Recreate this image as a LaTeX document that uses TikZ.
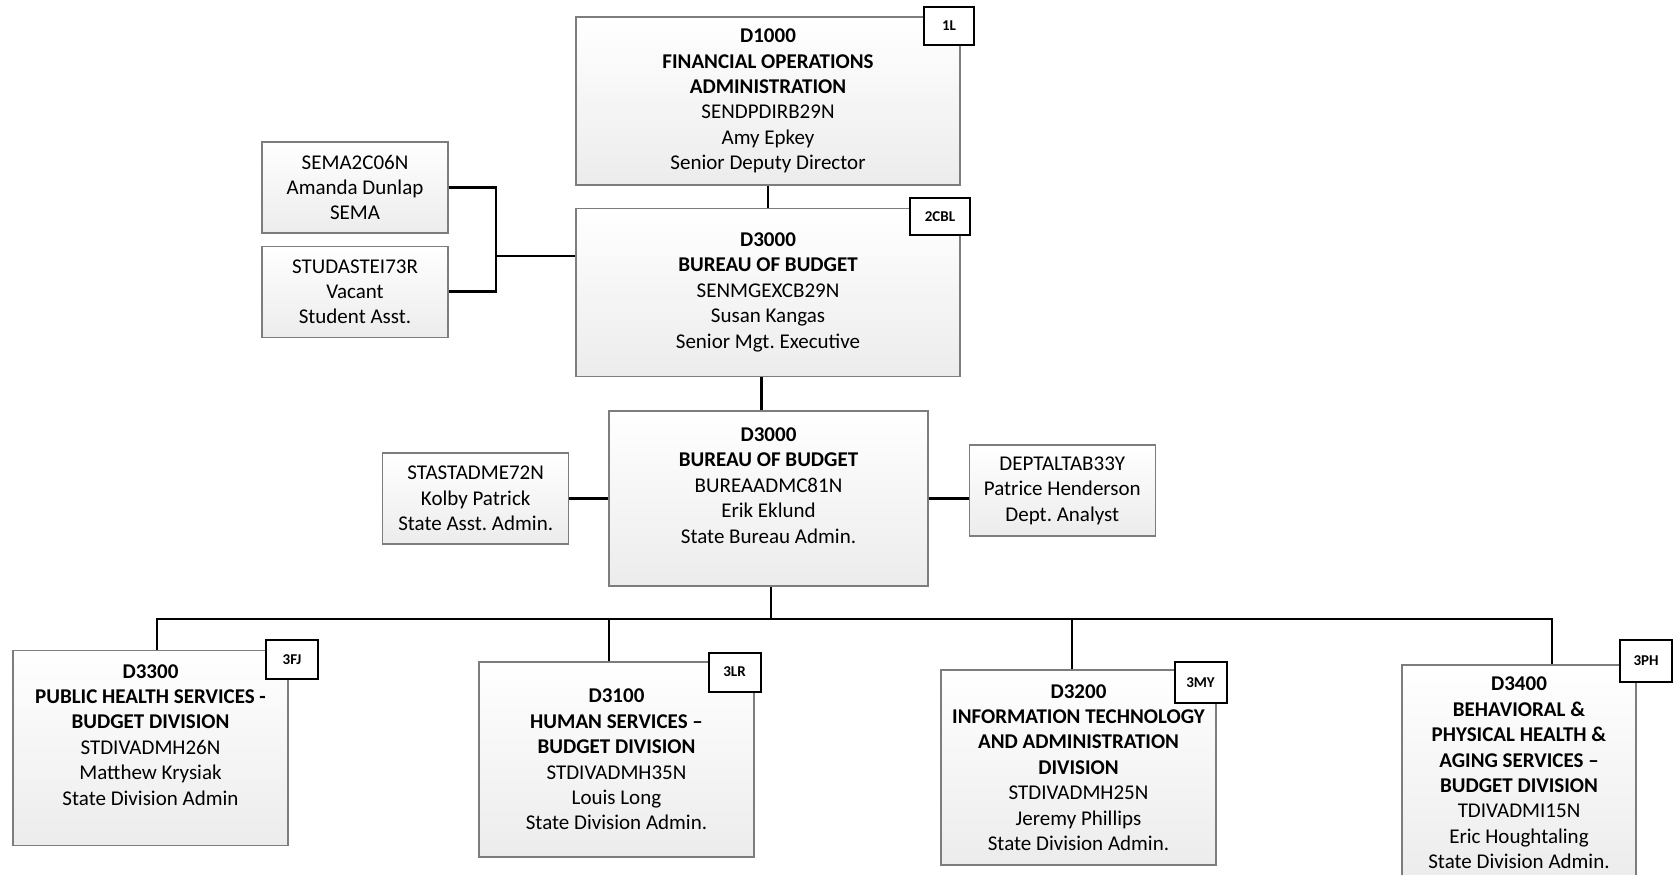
\documentclass[tikz,border=0pt]{standalone}
\usepackage{fontspec}
\setmainfont{Carlito}
\frenchspacing
\definecolor{boxBorder}{RGB}{125,125,125}
\definecolor{boxShade}{RGB}{236,236,236}
\usetikzlibrary{positioning}

\begin{document}
\begin{tikzpicture}[
  x=0.5pt, y=-0.5pt,
  box/.style={
    draw=boxBorder, line width=0.65pt, top color=white, bottom color=boxShade,
    align=center, inner sep=0pt, font=\fontsize{10.5}{12.7}\selectfont
  },
  big/.style={box, minimum width=192pt, minimum height=84pt},
  mid/.style={box, minimum width=159.5pt, minimum height=87.5pt},
  small/.style={box, minimum width=93pt, minimum height=45.5pt},
  div/.style={box, minimum width=137.5pt, minimum height=97.5pt},
  toptext/.style={anchor=north, align=center, inner sep=0pt, font=\fontsize{10.5}{12.7}\selectfont},
  tag/.style={
    draw, line width=1pt, fill=white, inner sep=0pt,
    minimum width=26pt, minimum height=19.5pt, font=\fontsize{7.5}{9}\selectfont\bfseries
  },
  link/.style={draw=black, line width=1.4pt}
]
  \clip (0,0) rectangle (1673,874);

  \node[big] (d1000) at (768,101) {\textbf{D1000}\\ \textbf{FINANCIAL OPERATIONS}\\ \textbf{ADMINISTRATION}\\ SENDPDIRB29N\\ Amy Epkey\\ Senior Deputy Director};
  \node[big, below=11pt of d1000] (d3000a) {\textbf{D3000}\\ \textbf{BUREAU OF BUDGET}\\ SENMGEXCB29N\\ Susan Kangas\\ Senior Mgt. Executive};
  \node[small] (sema) at (355,187.5) {SEMA2C06N\\ Amanda Dunlap\\ SEMA};
  \node[small, below=6pt of sema] (stud) {STUDASTEI73R\\ Vacant\\ Student Asst.};

  \node[mid] (d3000b) at (768.5,498.5) {};
  \node[toptext, below=8.5pt of d3000b.north] (d3000btxt) {\textbf{D3000}\\ \textbf{BUREAU OF BUDGET}\\ BUREAADMC81N\\ Erik Eklund\\ State Bureau Admin.};
  \node[small, left=19.5pt of d3000b] (stast) {STASTADME72N\\ Kolby Patrick\\ State Asst. Admin.};
  \node[small, right=20pt of d3000b, yshift=4pt] (dept) {DEPTALTAB33Y\\ Patrice Henderson\\ Dept. Analyst};

  \node[div] (d3300) at (150.5,748) {};
  \node[toptext, below=7pt of d3300.north] (d3300txt) {\textbf{D3300}\\ \textbf{PUBLIC HEALTH SERVICES -}\\ \textbf{BUDGET DIVISION}\\ STDIVADMH26N\\ Matthew Krysiak\\ State Division Admin};
  \node[div] (d3100) at (616.5,759.5) {\textbf{D3100}\\ \textbf{HUMAN SERVICES –}\\ \textbf{BUDGET DIVISION}\\ STDIVADMH35N\\ Louis Long\\ State Division Admin.};
  \node[div] (d3200) at (1078.5,767.5) {\textbf{D3200}\\ \textbf{INFORMATION TECHNOLOGY}\\ \textbf{AND ADMINISTRATION}\\ \textbf{DIVISION}\\ STDIVADMH25N\\ Jeremy Phillips\\ State Division Admin.};
  \node[div, minimum width=117pt, minimum height=108pt] (d3400) at (1519,773) {\textbf{D3400}\\ \textbf{BEHAVIORAL \&}\\ \textbf{PHYSICAL HEALTH \&}\\ \textbf{AGING SERVICES –}\\ \textbf{BUDGET DIVISION}\\ TDIVADMI15N\\ Eric Houghtaling\\ State Division Admin.};

  \draw[link] (d1000) -- (d3000a);
  \draw[link] ([xshift=-3.5pt]d3000b.north) -- ([xshift=-3.5pt]d3000b.north |- d3000a.south);
  \coordinate (brk) at (496,256);
  \draw[link] (sema.east) -| (brk) |- (stud.east);
  \draw[link] (brk) -- (brk -| d3000a.west);
  \draw[link] (stast) -- (d3000b);
  \draw[link] (d3000b.east |- stast) -- (dept.west |- stast);
  \coordinate (bus) at (771,619);
  \draw[link] (d3000b.south -| bus) -- (bus);
  \draw[link] ([xshift=3.25pt]d3300.north) |- (bus) -| ([xshift=16.5pt]d3400.north);
  \draw[link] ([xshift=-3.75pt]d3100.north) -- ([xshift=-3.75pt]d3100.north |- bus);
  \draw[link] ([xshift=-3.25pt]d3200.north) -- ([xshift=-3.25pt]d3200.north |- bus);

  \node[tag, minimum width=25pt, minimum height=19pt] (t1l) at (949,26) {1L};
  \node[tag, minimum width=30pt, minimum height=18.5pt] (t2cbl) at (940,216.5) {2CBL};
  \node[tag] (t3fj) at (292,659.5) {3FJ};
  \node[tag] (t3lr) at (734.5,672) {3LR};
  \node[tag, minimum height=20.5pt] (t3my) at (1200.5,682.5) {3MY};
  \node[tag, minimum height=21pt] (t3ph) at (1646,661) {3PH};
\end{tikzpicture}
\end{document}
